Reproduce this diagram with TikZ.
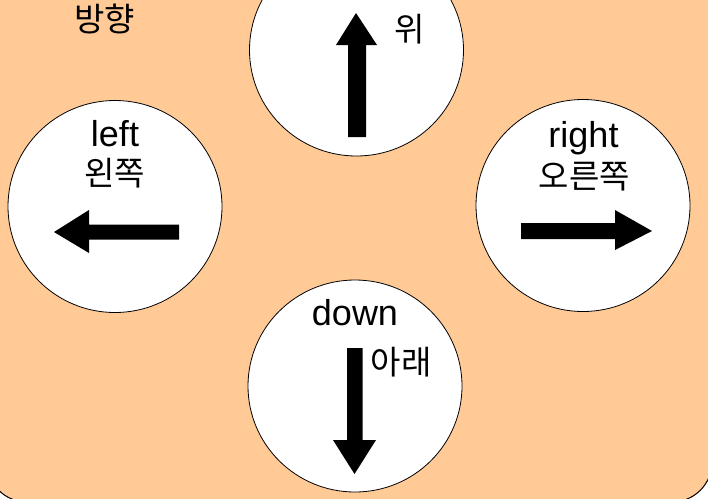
\documentclass[tikz,border=0pt]{standalone}
\usepackage{fontspec}
\setmainfont{Liberation Sans}
\newfontfamily\kr{Noto Sans CJK KR}
\usetikzlibrary{shapes.geometric}
\definecolor{peach}{RGB}{255,202,150}
\tikzset{
  pad/.style={ellipse, draw=black, line width=0.8pt, fill=white, minimum width=214pt, minimum height=212pt, inner sep=0pt},
  en/.style={inner sep=0pt, anchor=base, font=\fontsize{36}{40}\selectfont},
  ko/.style={inner sep=0pt, font=\kr\fontsize{33}{37}\selectfont},
  arr/.style={fill=black, draw=none}
}
\begin{document}
\begin{tikzpicture}[x=1pt,y=-1pt]
\useasboundingbox (0,0) rectangle (708,498);
\fill[white] (0,0) rectangle (708,498);
\begin{scope}
\clip (0,0) rectangle (708,498);
\draw[fill=peach, line width=1pt, rounded corners=40pt] (-13,-60) rectangle (712,502);
\end{scope}
\node[ko] (title) at (104.5,19.5) {방향};
% pads
\node[pad] (up) at (356.5,50) {};
\node[pad] (lf) at (115,206.5) {};
\node[pad] (rt) at (583,205.5) {};
\node[pad] (dn) at (355,386) {};
% labels
\node[ko] (upk) at (409.5,29) {위};
\node[en] (lfe) at (115,146.5) {left};
\node[ko] (lfk) at (114.5,173.5) {왼쪽};
\node[en] (rte) at (583.5,147) {right};
\node[ko] (rtk) at (584.5,177) {오른쪽};
\node[en] (dne) at (355,325) {down};
\node[ko] (dnk) at (401,362) {아래};
% arrows
\fill[arr] (356,13) -- (377,45) -- (366,45) -- (366,137) -- (348,137) -- (348,45) -- (336,45) -- cycle;
\fill[arr] (54,232) -- (89,210) -- (89,224.5) -- (179,224.5) -- (179,239.5) -- (89,239.5) -- (89,253) -- cycle;
\fill[arr] (652,231) -- (615,210) -- (615,223) -- (521,223) -- (521,239) -- (615,239) -- (615,250) -- cycle;
\fill[arr] (354.5,474) -- (376,440) -- (362.5,440) -- (362.5,348) -- (347,348) -- (347,440) -- (333,440) -- cycle;
\end{tikzpicture}
\end{document}
